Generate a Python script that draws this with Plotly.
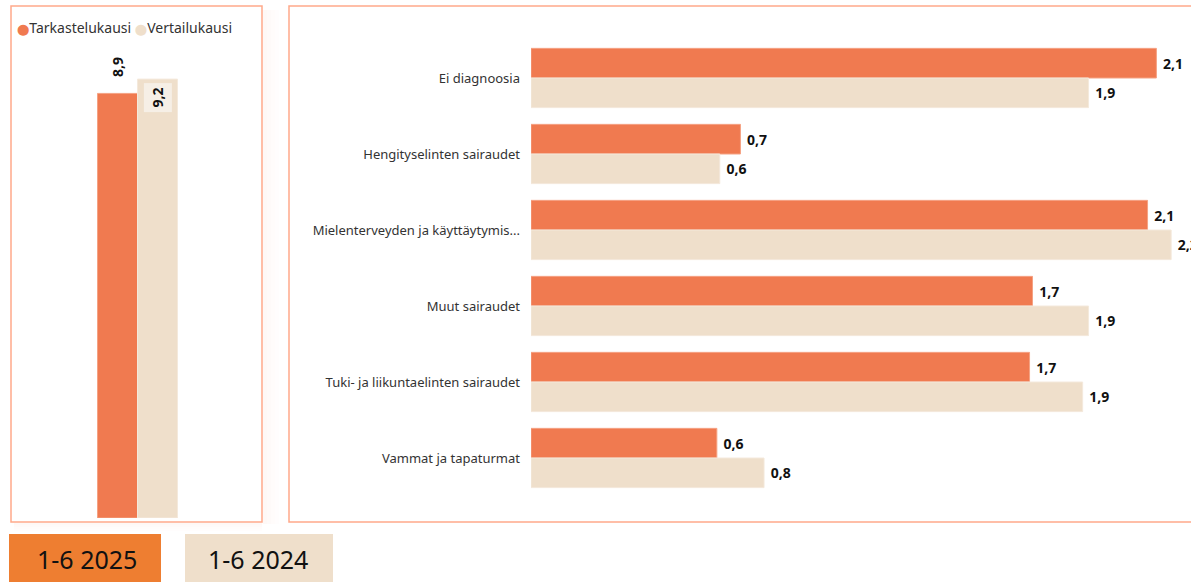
import plotly.graph_objects as go

# ---- data ----
series_names = ["Tarkastelukausi", "Vertailukausi"]
total_category = ["Yhteensä"]
total_current = [8.9]
total_reference = [9.2]

categories = [
    "Ei diagnoosia",
    "Hengityselinten sairaudet",
    "Mielenterveyden ja käyttäytymis...",
    "Muut sairaudet",
    "Tuki- ja liikuntaelinten sairaudet",
    "Vammat ja tapaturmat",
]
current_values = [2.12, 0.71, 2.09, 1.70, 1.69, 0.63]
reference_values = [1.89, 0.64, 2.17, 1.89, 1.87, 0.79]

period_labels = ["1-6 2025", "1-6 2024"]

# ---- style ----
ORANGE = "#F07A50"
BEIGE = "#EFDFCB"
ORANGE_LINE = "#F5A283"
BEIGE_LINE = "#F4E9DC"
BOX_ORANGE = "#EE7E31"
BORDER = "#FFA98B"
FONT = "Noto Sans"
W, H = 1191, 582


def px(x):
    return x / W


def py(y):
    return 1 - y / H


fig = go.Figure()

# left panel bars
bw = 40 / 241
fig.add_trace(go.Bar(
    x=total_category, y=total_current, name=series_names[0],
    marker=dict(color=ORANGE, line=dict(color=ORANGE_LINE, width=1)),
    width=bw, offset=-bw, xaxis="x", yaxis="y", showlegend=False,
    hoverinfo="skip",
))
fig.add_trace(go.Bar(
    x=total_category, y=total_reference, name=series_names[1],
    marker=dict(color=BEIGE, line=dict(color=BEIGE_LINE, width=1)),
    width=bw, offset=0, xaxis="x", yaxis="y", showlegend=False,
    hoverinfo="skip",
))

# right panel bars
fig.add_trace(go.Bar(
    y=categories, x=current_values, name=series_names[0], orientation="h",
    marker=dict(color=ORANGE, line=dict(color=ORANGE_LINE, width=1)),
    xaxis="x2", yaxis="y2", showlegend=False,
    text=current_values, texttemplate="\u00a0%{x:.1f}", textposition="outside",
    textfont=dict(family=FONT, size=14, color="#111111", weight="bold"),
    cliponaxis=False, hoverinfo="skip",
))
fig.add_trace(go.Bar(
    y=categories, x=reference_values, name=series_names[1], orientation="h",
    marker=dict(color=BEIGE, line=dict(color=BEIGE_LINE, width=1)),
    xaxis="x2", yaxis="y2", showlegend=False,
    text=reference_values, texttemplate="\u00a0%{x:.1f}", textposition="outside",
    textfont=dict(family=FONT, size=14, color="#111111", weight="bold"),
    cliponaxis=False, hoverinfo="skip",
))

shapes = []
# shadows
for i, op in enumerate([0.10, 0.07, 0.045, 0.025]):
    shapes.append(dict(type="rect", xref="paper", yref="paper",
                       x0=px(263 + i * 4), x1=px(267 + i * 4), y0=py(524), y1=py(10),
                       fillcolor="#F7B9A6", opacity=op, line=dict(width=0), layer="below"))
    shapes.append(dict(type="rect", xref="paper", yref="paper",
                       x0=px(14), x1=px(262), y0=py(523 + i * 2), y1=py(525 + i * 2),
                       fillcolor="#F7B9A6", opacity=op, line=dict(width=0), layer="below"))
# panel borders
shapes.append(dict(type="rect", xref="paper", yref="paper",
                   x0=px(11), x1=px(262), y0=py(522), y1=py(6),
                   line=dict(color=BORDER, width=1.5), fillcolor="rgba(0,0,0,0)", layer="below"))
shapes.append(dict(type="rect", xref="paper", yref="paper",
                   x0=px(289), x1=px(1200), y0=py(522), y1=py(6),
                   line=dict(color=BORDER, width=1.5), fillcolor="rgba(0,0,0,0)", layer="below"))
# bottom period boxes
shapes.append(dict(type="rect", xref="paper", yref="paper",
                   x0=px(9), x1=px(161), y0=py(582), y1=py(534),
                   fillcolor=BOX_ORANGE, line=dict(width=0), layer="below"))
shapes.append(dict(type="rect", xref="paper", yref="paper",
                   x0=px(185), x1=px(333), y0=py(582), y1=py(534),
                   fillcolor=BEIGE, line=dict(width=0), layer="below"))

annotations = [
    # legend
    dict(xref="paper", yref="paper", x=px(15), y=py(27), xanchor="left", yanchor="middle",
         showarrow=False,
         text=f'<span style="color:{ORANGE};font-family:DejaVu Sans;font-size:11px">⬤</span>{series_names[0]} '
              f'<span style="color:{BEIGE};font-family:DejaVu Sans;font-size:11px">⬤</span>{series_names[1]}',
         font=dict(family=FONT, size=14, color="#333333")),
    # left bar labels
    dict(x=total_category[0], y=total_current[0], xref="x", yref="y",
         text=f"{total_current[0]:.1f}".replace(".", ","), textangle=-90,
         xshift=-20, yshift=14, yanchor="bottom", showarrow=False,
         font=dict(family=FONT, size=14, color="#111111", weight="bold")),
    dict(x=total_category[0], y=total_reference[0], xref="x", yref="y",
         text=f"{total_reference[0]:.1f}".replace(".", ","), textangle=-90,
         xshift=20, yshift=-4, yanchor="top", showarrow=False,
         bgcolor="#F6EFE6", borderpad=4,
         font=dict(family=FONT, size=14, color="#111111", weight="bold")),
    # period boxes text
    dict(xref="paper", yref="paper", x=px(87), y=py(559), xanchor="center",
         yanchor="middle", showarrow=False,
         text=period_labels[0], font=dict(family=FONT, size=25, color="#111111")),
    dict(xref="paper", yref="paper", x=px(258), y=py(559), xanchor="center",
         yanchor="middle", showarrow=False,
         text=period_labels[1], font=dict(family=FONT, size=25, color="#111111")),
]

fig.update_layout(
    width=W, height=H,
    margin=dict(l=0, r=0, t=0, b=0),
    paper_bgcolor="white", plot_bgcolor="white",
    barmode="group", bargap=0.22, bargroupgap=0,
    separators=", ",
    font=dict(family=FONT, size=13, color="#333333"),
    xaxis=dict(domain=[px(17), px(258)], range=[-0.5, 0.5], visible=False,
               fixedrange=True),
    yaxis=dict(domain=[py(518), py(50)], range=[0, 9.81], visible=False,
               fixedrange=True),
    xaxis2=dict(domain=[px(531), 1.0], range=[0, 660 / 295], visible=False,
                anchor="y2", fixedrange=True),
    yaxis2=dict(domain=[py(496), py(40)], anchor="x2", autorange="reversed",
                showgrid=False, showline=False, zeroline=False,
                ticks="", ticklabelstandoff=10,
                tickfont=dict(family=FONT, size=13, color="#333333"),
                fixedrange=True),
    shapes=shapes,
    annotations=annotations,
    showlegend=False,
)

fig.write_html(
    "out.html",
    config={"displayModeBar": False},
    post_script="document.body.style.margin='0';document.body.style.overflow='hidden';",
)
